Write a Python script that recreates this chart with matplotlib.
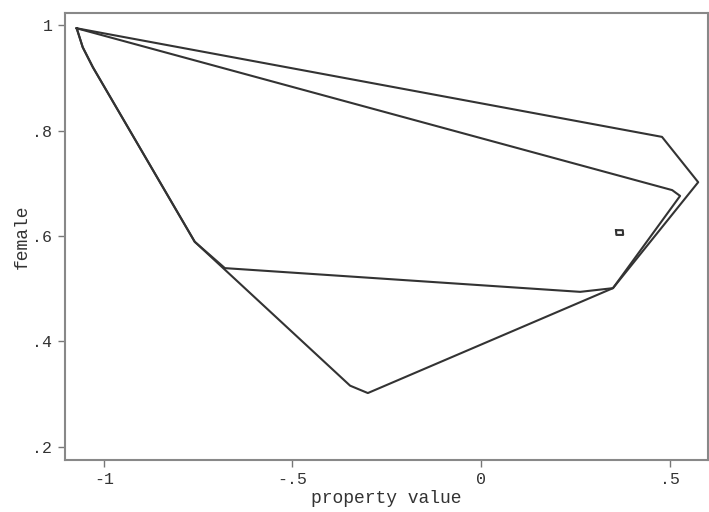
import numpy as np
import matplotlib.pyplot as plt

# convex hull peels, property value vs female
hull1_x = [-1.072, 0.480, 0.576, 0.350, -0.300, -0.347, -0.759, -1.029, -1.056, -1.072]
hull1_y = [0.994, 0.788, 0.702, 0.501, 0.302, 0.316, 0.589, 0.920, 0.958, 0.994]

hull2_x = [-1.072, 0.507, 0.528, 0.350, 0.263, -0.679, -0.759, -1.029, -1.056, -1.072]
hull2_y = [0.994, 0.687, 0.676, 0.501, 0.494, 0.539, 0.589, 0.920, 0.958, 0.994]

hull3_x = [0.358, 0.376, 0.377, 0.359, 0.358]
hull3_y = [0.611, 0.611, 0.602, 0.602, 0.611]

xticks = [-1, -0.5, 0, 0.5]
xticklabels = ['-1', '-.5', '0', '.5']
yticks = [0.2, 0.4, 0.6, 0.8, 1.0]
yticklabels = ['.2', '.4', '.6', '.8', '1']

plt.rcParams['font.family'] = ['Liberation Mono', 'DejaVu Sans Mono']

fig = plt.figure(figsize=(7.09, 5.12), dpi=100)
ax = fig.add_axes([65/709, 1 - 460/512, (708-65)/709, (460-13)/512])

line_col = '#333333'
for hx, hy in [(hull1_x, hull1_y), (hull2_x, hull2_y), (hull3_x, hull3_y)]:
    ax.plot(hx, hy, color=line_col, lw=1.5, solid_joinstyle='round')

ax.set_xlim(-1.103, 0.602)
ax.set_ylim(0.175, 1.023)

ax.set_xticks(xticks)
ax.set_xticklabels(xticklabels)
ax.set_yticks(yticks)
ax.set_yticklabels(yticklabels)

ax.tick_params(direction='out', length=5, width=1, color='#777777',
               labelsize=12, labelcolor='#333333', pad=4)
for s in ax.spines.values():
    s.set_color('#888888')
    s.set_linewidth(1.5)

ax.set_xlabel('property value', fontsize=13, color='#333333', labelpad=2)
ax.set_ylabel('female', fontsize=13, color='#333333', labelpad=1)

fig.savefig('out.png', dpi=100)
